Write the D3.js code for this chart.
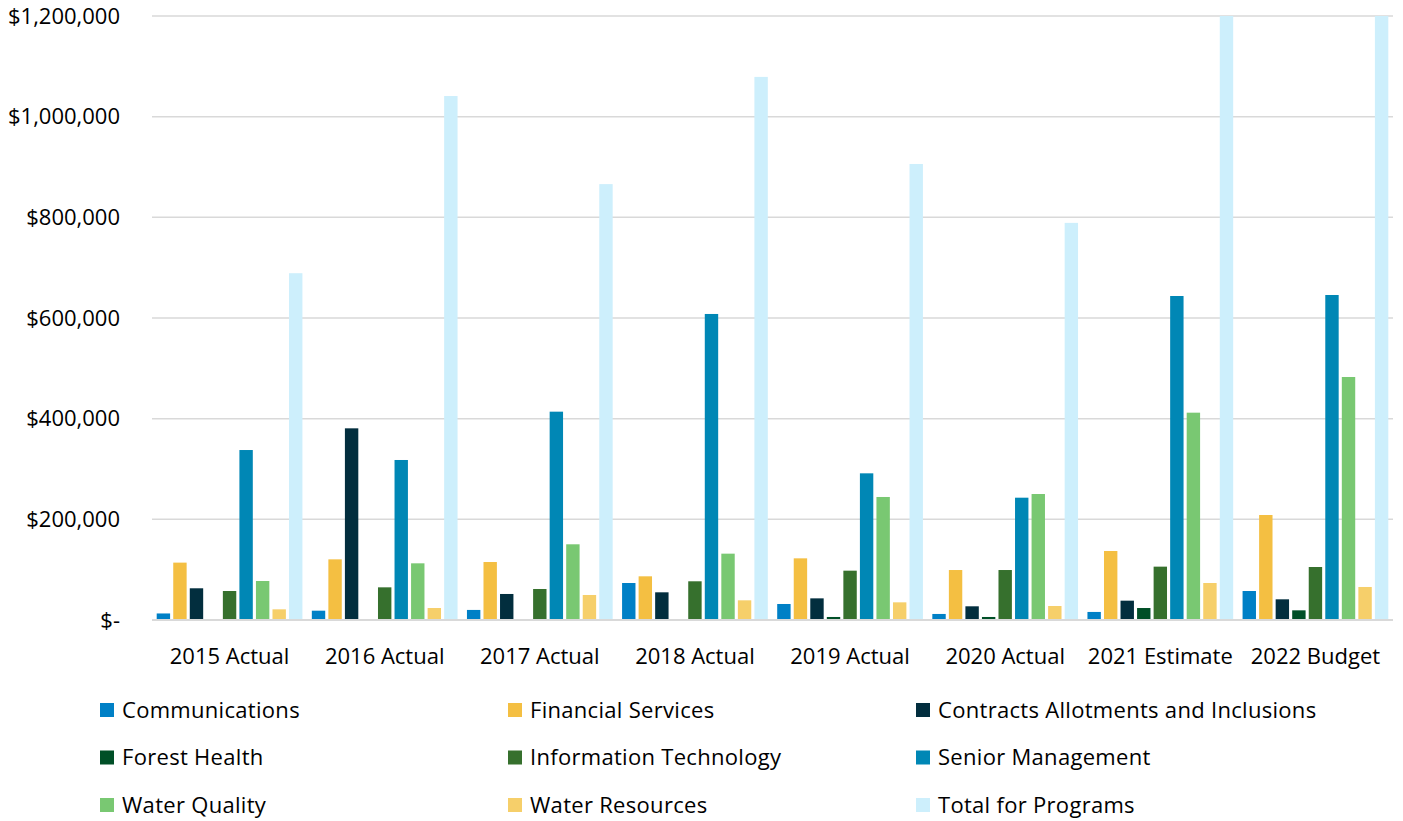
<!DOCTYPE html>
<html>
<head>
<meta charset="utf-8">
<script src="https://cdn.jsdelivr.net/npm/d3@7"></script>
<style>
  body { margin: 0; background: #fff; }
  svg { display: block; font-family: "Open Sans", "Noto Sans", sans-serif; }
</style>
</head>
<body>
<svg id="chart" width="1403" height="821"></svg>
<script>
// categories and series
const categories = ["2015 Actual", "2016 Actual", "2017 Actual", "2018 Actual", "2019 Actual", "2020 Actual", "2021 Estimate", "2022 Budget"];
const seriesNames = ["Communications", "Financial Services", "Contracts Allotments and Inclusions", "Forest Health",
  "Information Technology", "Senior Management", "Water Quality", "Water Resources", "Total for Programs"];
const seriesColors = ["#0080c6", "#f4bf42", "#022e3e", "#004f27", "#36702d", "#0087b5", "#79c872", "#f6cf6a", "#cdeffc"];

// values per series, one per category
const communications = [13000, 18500, 20000, 73500, 31800, 12000, 16000, 57600];
const financialServices = [114000, 120500, 115200, 86800, 122500, 99300, 137100, 208600];
const contractsAllotments = [63000, 380800, 51700, 55000, 43000, 27200, 38400, 41100];
const forestHealth = [0, 0, 0, 0, 6000, 6000, 23800, 19200];
const informationTechnology = [57600, 64900, 61600, 76900, 98000, 99300, 106000, 105300];
const seniorManagement = [337700, 317900, 413900, 608000, 291400, 243000, 643700, 645700];
const waterQuality = [77500, 112600, 150400, 131800, 244400, 250300, 411900, 482800];
const waterResources = [21200, 23800, 49700, 39100, 35100, 27800, 73500, 65600];
const totalForPrograms = [689000, 1041000, 866000, 1079000, 906000, 789000, 1450000, 1626000];

const seriesValues = [communications, financialServices, contractsAllotments, forestHealth,
  informationTechnology, seniorManagement, waterQuality, waterResources, totalForPrograms];

const yTicks = [0, 200000, 400000, 600000, 800000, 1000000, 1200000];

const margin = { top: 16, left: 152, right: 10, bottom: 201 };
const plotW = 1393 - margin.left;
const plotH = 620 - margin.top;
const fontSize = 22;

const svg = d3.select("#chart");

const x0 = d3.scaleBand().domain(categories).range([0, plotW]).padding(0);
const x1 = d3.scaleBand().domain(seriesNames)
  .range([4.7, x0.bandwidth() - 4.7]).paddingInner(0.19).paddingOuter(0);
const y = d3.scaleLinear().domain([0, 1200000]).range([plotH, 0]);

const g = svg.append("g").attr("transform", `translate(${margin.left},${margin.top})`);

// gridlines
g.append("g")
  .selectAll("line")
  .data(yTicks.filter(d => d > 0))
  .enter().append("line")
  .attr("x1", 0).attr("x2", plotW)
  .attr("y1", d => y(d)).attr("y2", d => y(d))
  .attr("stroke", "#d9d9d9").attr("stroke-width", 1.5);

// y labels
const fmt = d3.format(",");
g.append("g")
  .selectAll("text")
  .data(yTicks)
  .enter().append("text")
  .attr("x", -32)
  .attr("y", d => y(d))
  .attr("dy", "0.35em")
  .attr("text-anchor", "end")
  .attr("font-size", fontSize)
  .attr("fill", "#000")
  .text(d => d === 0 ? "$-" : "$" + fmt(d));

// bars
const rows = categories.map((c, i) => ({ cat: c, vals: seriesNames.map((s, j) => ({ s, j, v: seriesValues[j][i] })) }));

g.append("g")
  .selectAll("g")
  .data(rows)
  .enter().append("g")
  .attr("transform", d => `translate(${x0(d.cat)},0)`)
  .selectAll("rect")
  .data(d => d.vals.filter(v => v.v > 0))
  .enter().append("rect")
  .attr("x", d => x1(d.s))
  .attr("width", x1.bandwidth())
  .attr("y", d => y(Math.min(d.v, 1200000)))
  .attr("height", d => plotH - y(Math.min(d.v, 1200000)))
  .attr("fill", d => seriesColors[d.j]);

// baseline
g.append("line")
  .attr("x1", 0).attr("x2", plotW)
  .attr("y1", plotH).attr("y2", plotH)
  .attr("stroke", "#d9d9d9").attr("stroke-width", 2);

// x labels
g.append("g")
  .selectAll("text")
  .data(categories)
  .enter().append("text")
  .attr("x", d => x0(d) + x0.bandwidth() / 2)
  .attr("y", plotH + 36)
  .attr("dy", "0.35em")
  .attr("text-anchor", "middle")
  .attr("font-size", fontSize)
  .attr("fill", "#000")
  .text(d => d);

// legend, 3 columns
const legend = svg.append("g")
  .selectAll("g")
  .data(seriesNames)
  .enter().append("g")
  .attr("transform", (d, i) => `translate(${100 + (i % 3) * 408},${710 + Math.floor(i / 3) * 47.5})`);

legend.append("rect")
  .attr("x", 0).attr("y", -7)
  .attr("width", 14).attr("height", 14)
  .attr("fill", (d, i) => seriesColors[i]);

legend.append("text")
  .attr("x", 22).attr("y", 0)
  .attr("dy", "0.35em")
  .attr("font-size", fontSize)
  .attr("letter-spacing", 0.3)
  .attr("fill", "#000")
  .text(d => d);
</script>
</body>
</html>
